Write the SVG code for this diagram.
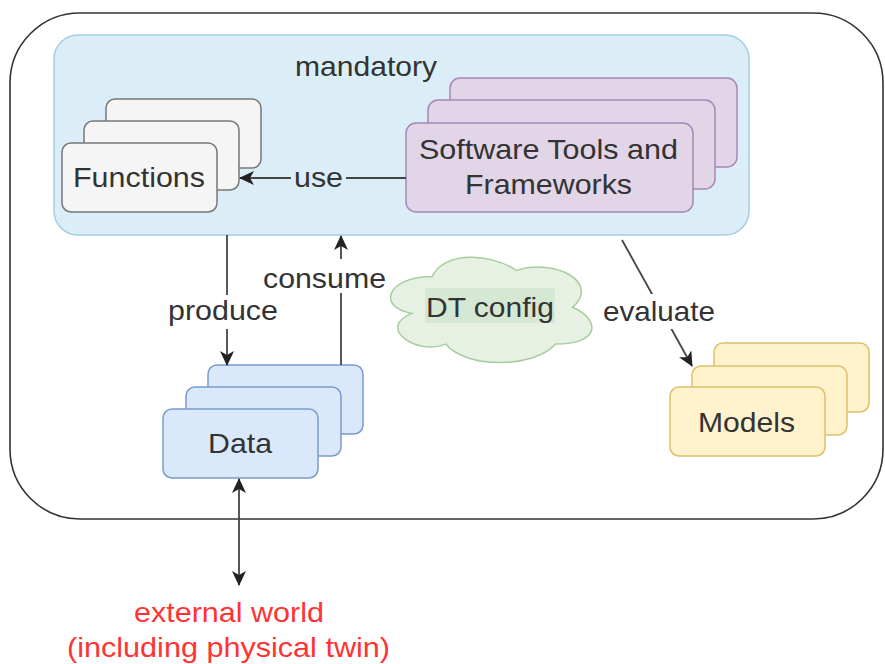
<svg xmlns="http://www.w3.org/2000/svg" width="885" height="664" viewBox="0 0 885 664">
<defs>
<marker id="arr" viewBox="0 0 15 14" markerWidth="15" markerHeight="14" refX="14" refY="7" orient="auto-start-reverse" markerUnits="userSpaceOnUse">
<path d="M0,0 L15,7 L0,14 L4,7 Z" fill="#222"/>
</marker>
<style>
text{font-family:"Liberation Sans",Arial,sans-serif;font-size:28px;fill:#333}
.con{stroke:#444;stroke-width:1.8;fill:none}
.fn{fill:#f5f5f5;stroke:#777;stroke-width:1.5}
.sw{fill:#e1d5e7;stroke:#a887b6;stroke-width:1.5}
.da{fill:#dae8fc;stroke:#7a9bcb;stroke-width:1.5}
.mo{fill:#fff2cc;stroke:#dcc06a;stroke-width:1.5}
.lbl{fill:#fff}
</style>
</defs>
<rect id="outer" x="10" y="13" width="873" height="506" rx="70" fill="#fff" stroke="#333" stroke-width="1.6"/>
<g id="mandatory">
<rect x="54" y="35" width="695" height="200" rx="24" fill="#dbeef7" stroke="#a3cfe2" stroke-width="1.5"/>
<text x="295" y="76" textLength="142" lengthAdjust="spacingAndGlyphs">mandatory</text>
</g>
<g id="functions">
<rect class="fn" x="106" y="99" width="155" height="69" rx="9"/>
<rect class="fn" x="84" y="121" width="155" height="69" rx="9"/>
<rect class="fn" x="62" y="143" width="155" height="69" rx="9"/>
<text x="73" y="187" textLength="132" lengthAdjust="spacingAndGlyphs">Functions</text>
</g>
<g id="software">
<rect class="sw" x="450" y="78" width="287" height="89" rx="10"/>
<rect class="sw" x="428" y="100" width="287" height="89" rx="10"/>
<rect class="sw" x="406" y="123" width="287" height="89" rx="10"/>
<text x="419" y="159" textLength="259" lengthAdjust="spacingAndGlyphs">Software Tools and</text>
<text x="465" y="194" textLength="167" lengthAdjust="spacingAndGlyphs">Frameworks</text>
</g>
<g id="data">
<rect class="da" x="208" y="365" width="155" height="69" rx="9"/>
<rect class="da" x="186" y="387" width="155" height="69" rx="9"/>
<rect class="da" x="163" y="409" width="155" height="69" rx="9"/>
<text x="208" y="453" textLength="64" lengthAdjust="spacingAndGlyphs">Data</text>
</g>
<g id="models">
<rect class="mo" x="714" y="343" width="155" height="69" rx="9"/>
<rect class="mo" x="692" y="366" width="155" height="69" rx="9"/>
<rect class="mo" x="670" y="387" width="155" height="69" rx="9"/>
<text x="698" y="432" textLength="97" lengthAdjust="spacingAndGlyphs">Models</text>
</g>
<g id="dtconfig">
<path transform="translate(490.5,309) scale(1.096,1.17) translate(-496.5,-309)" vector-effect="non-scaling-stroke" d="M443.25,281.25 C402.25,281.25 392,307.5 424.8,312.75 C392,324.3 428.9,349.5 455.55,339 C474,360 535.5,360 556,339 C597,339 597,318 571.4,307.5 C597,286.5 556,265.5 520.1,276 C494.5,260.25 453.5,260.25 443.25,281.25 Z" fill="#e6f1e4" stroke="#a8cd9d" stroke-width="1.5"/>
<rect x="425" y="288" width="130" height="35" fill="#d5e8d4"/>
<text x="426" y="317" textLength="128" lengthAdjust="spacingAndGlyphs">DT config</text>
</g>
<g id="connectors">
<line class="con" x1="406" y1="178" x2="240" y2="178" marker-end="url(#arr)"/>
<rect x="291" y="164" width="55" height="28" fill="#dbeef7"/>
<text x="294" y="187" textLength="49" lengthAdjust="spacingAndGlyphs">use</text>
<line class="con" x1="227" y1="235" x2="227" y2="365" marker-end="url(#arr)"/>
<rect class="lbl" x="166" y="295" width="114" height="34"/>
<text x="168" y="320" textLength="110" lengthAdjust="spacingAndGlyphs">produce</text>
<line class="con" x1="341" y1="365" x2="341" y2="236" marker-end="url(#arr)"/>
<rect class="lbl" x="261" y="259" width="126" height="34"/>
<text x="263" y="288" textLength="123" lengthAdjust="spacingAndGlyphs">consume</text>
<line class="con" x1="622" y1="240" x2="692" y2="366" marker-end="url(#arr)"/>
<rect class="lbl" x="601" y="294" width="116" height="35"/>
<text x="603" y="321" textLength="112" lengthAdjust="spacingAndGlyphs">evaluate</text>
<line class="con" x1="239" y1="479" x2="239" y2="585" marker-start="url(#arr)" marker-end="url(#arr)"/>
</g>
<g id="external">
<text x="134" y="622" textLength="190" lengthAdjust="spacingAndGlyphs" style="fill:#ff3333">external world</text>
<text x="67" y="657" textLength="323" lengthAdjust="spacingAndGlyphs" style="fill:#ff3333">(including physical twin)</text>
</g>
</svg>
